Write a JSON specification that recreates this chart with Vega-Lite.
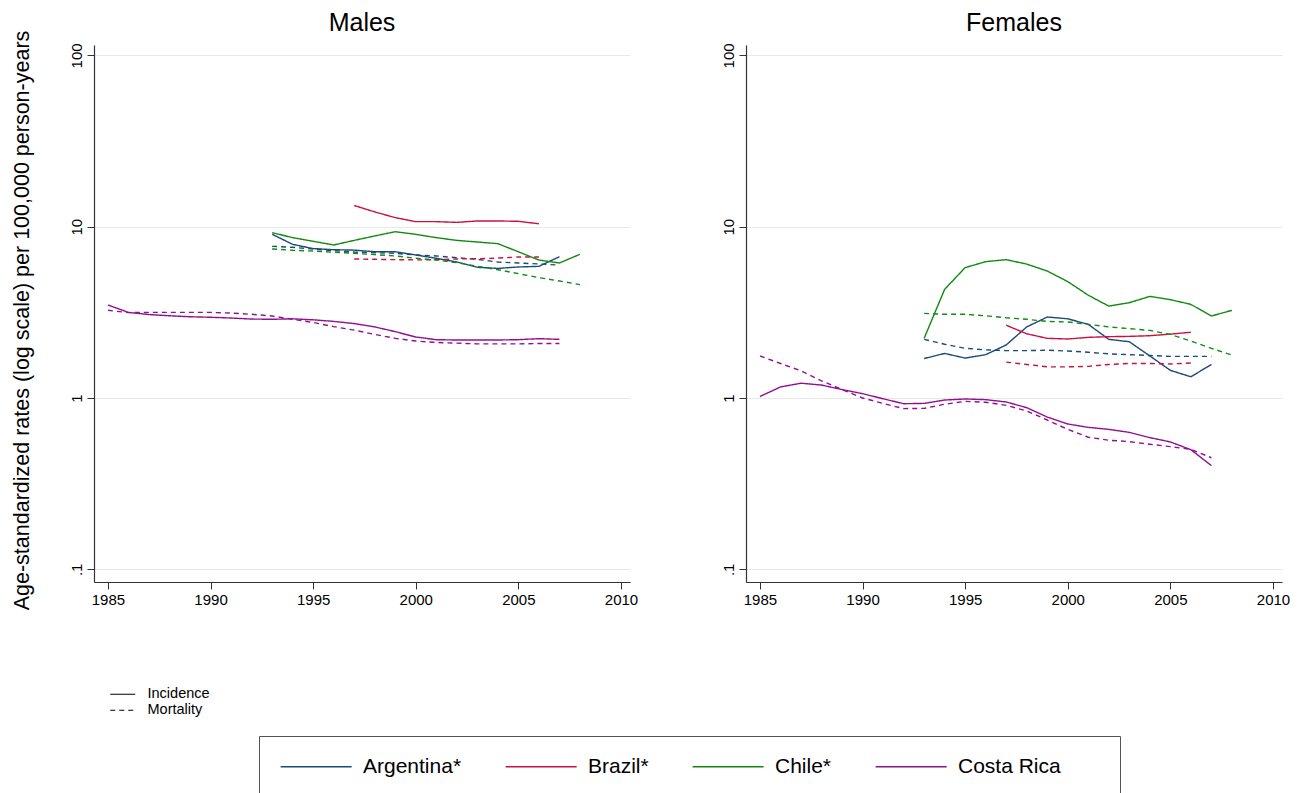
{
  "$schema": "https://vega.github.io/schema/vega-lite/v6.json",
  "background": "white",
  "padding": {"left": 10, "top": 10, "right": 5, "bottom": 0},
  "bounds": "flush",
  "spacing": 116,
  "config": {
    "font": "Liberation Sans",
    "view": {"stroke": null},
    "title": {"fontSize": 25, "fontWeight": "normal", "color": "black", "offset": 7, "anchor": "middle", "frame": "group"},
    "axis": {"labelColor": "black", "titleColor": "black", "domainColor": "#333333", "tickColor": "#333333", "labelFont": "Liberation Sans", "titleFont": "Liberation Sans"}
  },
  "datasets": {
    "rates": [
      {"sex":"Males","country":"Argentina*","measure":"Incidence","year":1993,"rate":9.03},
      {"sex":"Males","country":"Argentina*","measure":"Incidence","year":1994,"rate":7.89},
      {"sex":"Males","country":"Argentina*","measure":"Incidence","year":1995,"rate":7.45},
      {"sex":"Males","country":"Argentina*","measure":"Incidence","year":1996,"rate":7.34},
      {"sex":"Males","country":"Argentina*","measure":"Incidence","year":1997,"rate":7.3},
      {"sex":"Males","country":"Argentina*","measure":"Incidence","year":1998,"rate":7.14},
      {"sex":"Males","country":"Argentina*","measure":"Incidence","year":1999,"rate":7.14},
      {"sex":"Males","country":"Argentina*","measure":"Incidence","year":2000,"rate":6.84},
      {"sex":"Males","country":"Argentina*","measure":"Incidence","year":2001,"rate":6.54},
      {"sex":"Males","country":"Argentina*","measure":"Incidence","year":2002,"rate":6.22},
      {"sex":"Males","country":"Argentina*","measure":"Incidence","year":2003,"rate":5.79},
      {"sex":"Males","country":"Argentina*","measure":"Incidence","year":2004,"rate":5.71},
      {"sex":"Males","country":"Argentina*","measure":"Incidence","year":2005,"rate":5.82},
      {"sex":"Males","country":"Argentina*","measure":"Incidence","year":2006,"rate":5.87},
      {"sex":"Males","country":"Argentina*","measure":"Incidence","year":2007,"rate":6.68},
      {"sex":"Males","country":"Argentina*","measure":"Mortality","year":1993,"rate":7.68},
      {"sex":"Males","country":"Argentina*","measure":"Mortality","year":1994,"rate":7.58},
      {"sex":"Males","country":"Argentina*","measure":"Mortality","year":1995,"rate":7.41},
      {"sex":"Males","country":"Argentina*","measure":"Mortality","year":1996,"rate":7.24},
      {"sex":"Males","country":"Argentina*","measure":"Mortality","year":1997,"rate":7.11},
      {"sex":"Males","country":"Argentina*","measure":"Mortality","year":1998,"rate":7.05},
      {"sex":"Males","country":"Argentina*","measure":"Mortality","year":1999,"rate":6.99},
      {"sex":"Males","country":"Argentina*","measure":"Mortality","year":2000,"rate":6.84},
      {"sex":"Males","country":"Argentina*","measure":"Mortality","year":2001,"rate":6.75},
      {"sex":"Males","country":"Argentina*","measure":"Mortality","year":2002,"rate":6.59},
      {"sex":"Males","country":"Argentina*","measure":"Mortality","year":2003,"rate":6.45},
      {"sex":"Males","country":"Argentina*","measure":"Mortality","year":2004,"rate":6.22},
      {"sex":"Males","country":"Argentina*","measure":"Mortality","year":2005,"rate":6.14},
      {"sex":"Males","country":"Argentina*","measure":"Mortality","year":2006,"rate":6.06},
      {"sex":"Males","country":"Argentina*","measure":"Mortality","year":2007,"rate":5.97},
      {"sex":"Males","country":"Brazil*","measure":"Incidence","year":1997,"rate":13.3},
      {"sex":"Males","country":"Brazil*","measure":"Incidence","year":1998,"rate":12.2},
      {"sex":"Males","country":"Brazil*","measure":"Incidence","year":1999,"rate":11.3},
      {"sex":"Males","country":"Brazil*","measure":"Incidence","year":2000,"rate":10.7},
      {"sex":"Males","country":"Brazil*","measure":"Incidence","year":2001,"rate":10.7},
      {"sex":"Males","country":"Brazil*","measure":"Incidence","year":2002,"rate":10.6},
      {"sex":"Males","country":"Brazil*","measure":"Incidence","year":2003,"rate":10.8},
      {"sex":"Males","country":"Brazil*","measure":"Incidence","year":2004,"rate":10.8},
      {"sex":"Males","country":"Brazil*","measure":"Incidence","year":2005,"rate":10.75},
      {"sex":"Males","country":"Brazil*","measure":"Incidence","year":2006,"rate":10.4},
      {"sex":"Males","country":"Brazil*","measure":"Mortality","year":1997,"rate":6.48},
      {"sex":"Males","country":"Brazil*","measure":"Mortality","year":1998,"rate":6.45},
      {"sex":"Males","country":"Brazil*","measure":"Mortality","year":1999,"rate":6.42},
      {"sex":"Males","country":"Brazil*","measure":"Mortality","year":2000,"rate":6.4},
      {"sex":"Males","country":"Brazil*","measure":"Mortality","year":2001,"rate":6.42},
      {"sex":"Males","country":"Brazil*","measure":"Mortality","year":2002,"rate":6.48},
      {"sex":"Males","country":"Brazil*","measure":"Mortality","year":2003,"rate":6.5},
      {"sex":"Males","country":"Brazil*","measure":"Mortality","year":2004,"rate":6.56},
      {"sex":"Males","country":"Brazil*","measure":"Mortality","year":2005,"rate":6.65},
      {"sex":"Males","country":"Brazil*","measure":"Mortality","year":2006,"rate":6.65},
      {"sex":"Males","country":"Chile*","measure":"Incidence","year":1993,"rate":9.23},
      {"sex":"Males","country":"Chile*","measure":"Incidence","year":1994,"rate":8.63},
      {"sex":"Males","country":"Chile*","measure":"Incidence","year":1995,"rate":8.22},
      {"sex":"Males","country":"Chile*","measure":"Incidence","year":1996,"rate":7.82},
      {"sex":"Males","country":"Chile*","measure":"Incidence","year":1997,"rate":8.32},
      {"sex":"Males","country":"Chile*","measure":"Incidence","year":1998,"rate":8.83},
      {"sex":"Males","country":"Chile*","measure":"Incidence","year":1999,"rate":9.35},
      {"sex":"Males","country":"Chile*","measure":"Incidence","year":2000,"rate":9.02},
      {"sex":"Males","country":"Chile*","measure":"Incidence","year":2001,"rate":8.63},
      {"sex":"Males","country":"Chile*","measure":"Incidence","year":2002,"rate":8.32},
      {"sex":"Males","country":"Chile*","measure":"Incidence","year":2003,"rate":8.14},
      {"sex":"Males","country":"Chile*","measure":"Incidence","year":2004,"rate":7.96},
      {"sex":"Males","country":"Chile*","measure":"Incidence","year":2005,"rate":7.14},
      {"sex":"Males","country":"Chile*","measure":"Incidence","year":2006,"rate":6.39},
      {"sex":"Males","country":"Chile*","measure":"Incidence","year":2007,"rate":6.14},
      {"sex":"Males","country":"Chile*","measure":"Incidence","year":2008,"rate":6.9},
      {"sex":"Males","country":"Chile*","measure":"Mortality","year":1993,"rate":7.41},
      {"sex":"Males","country":"Chile*","measure":"Mortality","year":1994,"rate":7.28},
      {"sex":"Males","country":"Chile*","measure":"Mortality","year":1995,"rate":7.21},
      {"sex":"Males","country":"Chile*","measure":"Mortality","year":1996,"rate":7.09},
      {"sex":"Males","country":"Chile*","measure":"Mortality","year":1997,"rate":6.99},
      {"sex":"Males","country":"Chile*","measure":"Mortality","year":1998,"rate":6.87},
      {"sex":"Males","country":"Chile*","measure":"Mortality","year":1999,"rate":6.75},
      {"sex":"Males","country":"Chile*","measure":"Mortality","year":2000,"rate":6.54},
      {"sex":"Males","country":"Chile*","measure":"Mortality","year":2001,"rate":6.39},
      {"sex":"Males","country":"Chile*","measure":"Mortality","year":2002,"rate":6.17},
      {"sex":"Males","country":"Chile*","measure":"Mortality","year":2003,"rate":5.87},
      {"sex":"Males","country":"Chile*","measure":"Mortality","year":2004,"rate":5.61},
      {"sex":"Males","country":"Chile*","measure":"Mortality","year":2005,"rate":5.32},
      {"sex":"Males","country":"Chile*","measure":"Mortality","year":2006,"rate":5.04},
      {"sex":"Males","country":"Chile*","measure":"Mortality","year":2007,"rate":4.82},
      {"sex":"Males","country":"Chile*","measure":"Mortality","year":2008,"rate":4.59},
      {"sex":"Males","country":"Costa Rica","measure":"Incidence","year":1985,"rate":3.49},
      {"sex":"Males","country":"Costa Rica","measure":"Incidence","year":1986,"rate":3.16},
      {"sex":"Males","country":"Costa Rica","measure":"Incidence","year":1987,"rate":3.07},
      {"sex":"Males","country":"Costa Rica","measure":"Incidence","year":1988,"rate":3.02},
      {"sex":"Males","country":"Costa Rica","measure":"Incidence","year":1989,"rate":2.98},
      {"sex":"Males","country":"Costa Rica","measure":"Incidence","year":1990,"rate":2.96},
      {"sex":"Males","country":"Costa Rica","measure":"Incidence","year":1991,"rate":2.93},
      {"sex":"Males","country":"Costa Rica","measure":"Incidence","year":1992,"rate":2.89},
      {"sex":"Males","country":"Costa Rica","measure":"Incidence","year":1993,"rate":2.88},
      {"sex":"Males","country":"Costa Rica","measure":"Incidence","year":1994,"rate":2.9},
      {"sex":"Males","country":"Costa Rica","measure":"Incidence","year":1995,"rate":2.86},
      {"sex":"Males","country":"Costa Rica","measure":"Incidence","year":1996,"rate":2.8},
      {"sex":"Males","country":"Costa Rica","measure":"Incidence","year":1997,"rate":2.72},
      {"sex":"Males","country":"Costa Rica","measure":"Incidence","year":1998,"rate":2.6},
      {"sex":"Males","country":"Costa Rica","measure":"Incidence","year":1999,"rate":2.44},
      {"sex":"Males","country":"Costa Rica","measure":"Incidence","year":2000,"rate":2.27},
      {"sex":"Males","country":"Costa Rica","measure":"Incidence","year":2001,"rate":2.19},
      {"sex":"Males","country":"Costa Rica","measure":"Incidence","year":2002,"rate":2.18},
      {"sex":"Males","country":"Costa Rica","measure":"Incidence","year":2003,"rate":2.18},
      {"sex":"Males","country":"Costa Rica","measure":"Incidence","year":2004,"rate":2.18},
      {"sex":"Males","country":"Costa Rica","measure":"Incidence","year":2005,"rate":2.19},
      {"sex":"Males","country":"Costa Rica","measure":"Incidence","year":2006,"rate":2.22},
      {"sex":"Males","country":"Costa Rica","measure":"Incidence","year":2007,"rate":2.2},
      {"sex":"Males","country":"Costa Rica","measure":"Mortality","year":1985,"rate":3.25},
      {"sex":"Males","country":"Costa Rica","measure":"Mortality","year":1986,"rate":3.15},
      {"sex":"Males","country":"Costa Rica","measure":"Mortality","year":1987,"rate":3.16},
      {"sex":"Males","country":"Costa Rica","measure":"Mortality","year":1988,"rate":3.16},
      {"sex":"Males","country":"Costa Rica","measure":"Mortality","year":1989,"rate":3.16},
      {"sex":"Males","country":"Costa Rica","measure":"Mortality","year":1990,"rate":3.16},
      {"sex":"Males","country":"Costa Rica","measure":"Mortality","year":1991,"rate":3.13},
      {"sex":"Males","country":"Costa Rica","measure":"Mortality","year":1992,"rate":3.08},
      {"sex":"Males","country":"Costa Rica","measure":"Mortality","year":1993,"rate":3.01},
      {"sex":"Males","country":"Costa Rica","measure":"Mortality","year":1994,"rate":2.88},
      {"sex":"Males","country":"Costa Rica","measure":"Mortality","year":1995,"rate":2.76},
      {"sex":"Males","country":"Costa Rica","measure":"Mortality","year":1996,"rate":2.61},
      {"sex":"Males","country":"Costa Rica","measure":"Mortality","year":1997,"rate":2.49},
      {"sex":"Males","country":"Costa Rica","measure":"Mortality","year":1998,"rate":2.35},
      {"sex":"Males","country":"Costa Rica","measure":"Mortality","year":1999,"rate":2.23},
      {"sex":"Males","country":"Costa Rica","measure":"Mortality","year":2000,"rate":2.15},
      {"sex":"Males","country":"Costa Rica","measure":"Mortality","year":2001,"rate":2.11},
      {"sex":"Males","country":"Costa Rica","measure":"Mortality","year":2002,"rate":2.09},
      {"sex":"Males","country":"Costa Rica","measure":"Mortality","year":2003,"rate":2.07},
      {"sex":"Males","country":"Costa Rica","measure":"Mortality","year":2004,"rate":2.07},
      {"sex":"Males","country":"Costa Rica","measure":"Mortality","year":2005,"rate":2.07},
      {"sex":"Males","country":"Costa Rica","measure":"Mortality","year":2006,"rate":2.08},
      {"sex":"Males","country":"Costa Rica","measure":"Mortality","year":2007,"rate":2.08},
      {"sex":"Females","country":"Argentina*","measure":"Incidence","year":1993,"rate":1.7},
      {"sex":"Females","country":"Argentina*","measure":"Incidence","year":1994,"rate":1.82},
      {"sex":"Females","country":"Argentina*","measure":"Incidence","year":1995,"rate":1.71},
      {"sex":"Females","country":"Argentina*","measure":"Incidence","year":1996,"rate":1.79},
      {"sex":"Females","country":"Argentina*","measure":"Incidence","year":1997,"rate":2.04},
      {"sex":"Females","country":"Argentina*","measure":"Incidence","year":1998,"rate":2.6},
      {"sex":"Females","country":"Argentina*","measure":"Incidence","year":1999,"rate":2.97},
      {"sex":"Females","country":"Argentina*","measure":"Incidence","year":2000,"rate":2.9},
      {"sex":"Females","country":"Argentina*","measure":"Incidence","year":2001,"rate":2.69},
      {"sex":"Females","country":"Argentina*","measure":"Incidence","year":2002,"rate":2.2},
      {"sex":"Females","country":"Argentina*","measure":"Incidence","year":2003,"rate":2.13},
      {"sex":"Females","country":"Argentina*","measure":"Incidence","year":2004,"rate":1.76},
      {"sex":"Females","country":"Argentina*","measure":"Incidence","year":2005,"rate":1.45},
      {"sex":"Females","country":"Argentina*","measure":"Incidence","year":2006,"rate":1.33},
      {"sex":"Females","country":"Argentina*","measure":"Incidence","year":2007,"rate":1.57},
      {"sex":"Females","country":"Argentina*","measure":"Mortality","year":1993,"rate":2.2},
      {"sex":"Females","country":"Argentina*","measure":"Mortality","year":1994,"rate":2.06},
      {"sex":"Females","country":"Argentina*","measure":"Mortality","year":1995,"rate":1.95},
      {"sex":"Females","country":"Argentina*","measure":"Mortality","year":1996,"rate":1.91},
      {"sex":"Females","country":"Argentina*","measure":"Mortality","year":1997,"rate":1.89},
      {"sex":"Females","country":"Argentina*","measure":"Mortality","year":1998,"rate":1.89},
      {"sex":"Females","country":"Argentina*","measure":"Mortality","year":1999,"rate":1.9},
      {"sex":"Females","country":"Argentina*","measure":"Mortality","year":2000,"rate":1.88},
      {"sex":"Females","country":"Argentina*","measure":"Mortality","year":2001,"rate":1.85},
      {"sex":"Females","country":"Argentina*","measure":"Mortality","year":2002,"rate":1.81},
      {"sex":"Females","country":"Argentina*","measure":"Mortality","year":2003,"rate":1.79},
      {"sex":"Females","country":"Argentina*","measure":"Mortality","year":2004,"rate":1.77},
      {"sex":"Females","country":"Argentina*","measure":"Mortality","year":2005,"rate":1.75},
      {"sex":"Females","country":"Argentina*","measure":"Mortality","year":2006,"rate":1.75},
      {"sex":"Females","country":"Argentina*","measure":"Mortality","year":2007,"rate":1.75},
      {"sex":"Females","country":"Brazil*","measure":"Incidence","year":1997,"rate":2.66},
      {"sex":"Females","country":"Brazil*","measure":"Incidence","year":1998,"rate":2.37},
      {"sex":"Females","country":"Brazil*","measure":"Incidence","year":1999,"rate":2.23},
      {"sex":"Females","country":"Brazil*","measure":"Incidence","year":2000,"rate":2.21},
      {"sex":"Females","country":"Brazil*","measure":"Incidence","year":2001,"rate":2.26},
      {"sex":"Females","country":"Brazil*","measure":"Incidence","year":2002,"rate":2.28},
      {"sex":"Females","country":"Brazil*","measure":"Incidence","year":2003,"rate":2.29},
      {"sex":"Females","country":"Brazil*","measure":"Incidence","year":2004,"rate":2.31},
      {"sex":"Females","country":"Brazil*","measure":"Incidence","year":2005,"rate":2.36},
      {"sex":"Females","country":"Brazil*","measure":"Incidence","year":2006,"rate":2.42},
      {"sex":"Females","country":"Brazil*","measure":"Mortality","year":1997,"rate":1.62},
      {"sex":"Females","country":"Brazil*","measure":"Mortality","year":1998,"rate":1.57},
      {"sex":"Females","country":"Brazil*","measure":"Mortality","year":1999,"rate":1.52},
      {"sex":"Females","country":"Brazil*","measure":"Mortality","year":2000,"rate":1.52},
      {"sex":"Females","country":"Brazil*","measure":"Mortality","year":2001,"rate":1.53},
      {"sex":"Females","country":"Brazil*","measure":"Mortality","year":2002,"rate":1.57},
      {"sex":"Females","country":"Brazil*","measure":"Mortality","year":2003,"rate":1.59},
      {"sex":"Females","country":"Brazil*","measure":"Mortality","year":2004,"rate":1.59},
      {"sex":"Females","country":"Brazil*","measure":"Mortality","year":2005,"rate":1.58},
      {"sex":"Females","country":"Brazil*","measure":"Mortality","year":2006,"rate":1.6},
      {"sex":"Females","country":"Chile*","measure":"Incidence","year":1993,"rate":2.23},
      {"sex":"Females","country":"Chile*","measure":"Incidence","year":1994,"rate":4.31},
      {"sex":"Females","country":"Chile*","measure":"Incidence","year":1995,"rate":5.77},
      {"sex":"Females","country":"Chile*","measure":"Incidence","year":1996,"rate":6.25},
      {"sex":"Females","country":"Chile*","measure":"Incidence","year":1997,"rate":6.42},
      {"sex":"Females","country":"Chile*","measure":"Incidence","year":1998,"rate":6.05},
      {"sex":"Females","country":"Chile*","measure":"Incidence","year":1999,"rate":5.51},
      {"sex":"Females","country":"Chile*","measure":"Incidence","year":2000,"rate":4.78},
      {"sex":"Females","country":"Chile*","measure":"Incidence","year":2001,"rate":3.98},
      {"sex":"Females","country":"Chile*","measure":"Incidence","year":2002,"rate":3.44},
      {"sex":"Females","country":"Chile*","measure":"Incidence","year":2003,"rate":3.6},
      {"sex":"Females","country":"Chile*","measure":"Incidence","year":2004,"rate":3.92},
      {"sex":"Females","country":"Chile*","measure":"Incidence","year":2005,"rate":3.75},
      {"sex":"Females","country":"Chile*","measure":"Incidence","year":2006,"rate":3.52},
      {"sex":"Females","country":"Chile*","measure":"Incidence","year":2007,"rate":3.01},
      {"sex":"Females","country":"Chile*","measure":"Incidence","year":2008,"rate":3.25},
      {"sex":"Females","country":"Chile*","measure":"Mortality","year":1993,"rate":3.12},
      {"sex":"Females","country":"Chile*","measure":"Mortality","year":1994,"rate":3.08},
      {"sex":"Females","country":"Chile*","measure":"Mortality","year":1995,"rate":3.08},
      {"sex":"Females","country":"Chile*","measure":"Mortality","year":1996,"rate":3.02},
      {"sex":"Females","country":"Chile*","measure":"Mortality","year":1997,"rate":2.94},
      {"sex":"Females","country":"Chile*","measure":"Mortality","year":1998,"rate":2.88},
      {"sex":"Females","country":"Chile*","measure":"Mortality","year":1999,"rate":2.8},
      {"sex":"Females","country":"Chile*","measure":"Mortality","year":2000,"rate":2.78},
      {"sex":"Females","country":"Chile*","measure":"Mortality","year":2001,"rate":2.69},
      {"sex":"Females","country":"Chile*","measure":"Mortality","year":2002,"rate":2.6},
      {"sex":"Females","country":"Chile*","measure":"Mortality","year":2003,"rate":2.54},
      {"sex":"Females","country":"Chile*","measure":"Mortality","year":2004,"rate":2.48},
      {"sex":"Females","country":"Chile*","measure":"Mortality","year":2005,"rate":2.35},
      {"sex":"Females","country":"Chile*","measure":"Mortality","year":2006,"rate":2.15},
      {"sex":"Females","country":"Chile*","measure":"Mortality","year":2007,"rate":1.95},
      {"sex":"Females","country":"Chile*","measure":"Mortality","year":2008,"rate":1.78},
      {"sex":"Females","country":"Costa Rica","measure":"Incidence","year":1985,"rate":1.02},
      {"sex":"Females","country":"Costa Rica","measure":"Incidence","year":1986,"rate":1.16},
      {"sex":"Females","country":"Costa Rica","measure":"Incidence","year":1987,"rate":1.22},
      {"sex":"Females","country":"Costa Rica","measure":"Incidence","year":1988,"rate":1.19},
      {"sex":"Females","country":"Costa Rica","measure":"Incidence","year":1989,"rate":1.12},
      {"sex":"Females","country":"Costa Rica","measure":"Incidence","year":1990,"rate":1.06},
      {"sex":"Females","country":"Costa Rica","measure":"Incidence","year":1991,"rate":0.99},
      {"sex":"Females","country":"Costa Rica","measure":"Incidence","year":1992,"rate":0.926},
      {"sex":"Females","country":"Costa Rica","measure":"Incidence","year":1993,"rate":0.93},
      {"sex":"Females","country":"Costa Rica","measure":"Incidence","year":1994,"rate":0.973},
      {"sex":"Females","country":"Costa Rica","measure":"Incidence","year":1995,"rate":0.987},
      {"sex":"Females","country":"Costa Rica","measure":"Incidence","year":1996,"rate":0.978},
      {"sex":"Females","country":"Costa Rica","measure":"Incidence","year":1997,"rate":0.948},
      {"sex":"Females","country":"Costa Rica","measure":"Incidence","year":1998,"rate":0.878},
      {"sex":"Females","country":"Costa Rica","measure":"Incidence","year":1999,"rate":0.774},
      {"sex":"Females","country":"Costa Rica","measure":"Incidence","year":2000,"rate":0.705},
      {"sex":"Females","country":"Costa Rica","measure":"Incidence","year":2001,"rate":0.674},
      {"sex":"Females","country":"Costa Rica","measure":"Incidence","year":2002,"rate":0.656},
      {"sex":"Females","country":"Costa Rica","measure":"Incidence","year":2003,"rate":0.63},
      {"sex":"Females","country":"Costa Rica","measure":"Incidence","year":2004,"rate":0.587},
      {"sex":"Females","country":"Costa Rica","measure":"Incidence","year":2005,"rate":0.554},
      {"sex":"Females","country":"Costa Rica","measure":"Incidence","year":2006,"rate":0.499},
      {"sex":"Females","country":"Costa Rica","measure":"Incidence","year":2007,"rate":0.403},
      {"sex":"Females","country":"Costa Rica","measure":"Mortality","year":1985,"rate":1.76},
      {"sex":"Females","country":"Costa Rica","measure":"Mortality","year":1986,"rate":1.59},
      {"sex":"Females","country":"Costa Rica","measure":"Mortality","year":1987,"rate":1.44},
      {"sex":"Females","country":"Costa Rica","measure":"Mortality","year":1988,"rate":1.26},
      {"sex":"Females","country":"Costa Rica","measure":"Mortality","year":1989,"rate":1.12},
      {"sex":"Females","country":"Costa Rica","measure":"Mortality","year":1990,"rate":1.0},
      {"sex":"Females","country":"Costa Rica","measure":"Mortality","year":1991,"rate":0.93},
      {"sex":"Females","country":"Costa Rica","measure":"Mortality","year":1992,"rate":0.867},
      {"sex":"Females","country":"Costa Rica","measure":"Mortality","year":1993,"rate":0.87},
      {"sex":"Females","country":"Costa Rica","measure":"Mortality","year":1994,"rate":0.919},
      {"sex":"Females","country":"Costa Rica","measure":"Mortality","year":1995,"rate":0.956},
      {"sex":"Females","country":"Costa Rica","measure":"Mortality","year":1996,"rate":0.944},
      {"sex":"Females","country":"Costa Rica","measure":"Mortality","year":1997,"rate":0.906},
      {"sex":"Females","country":"Costa Rica","measure":"Mortality","year":1998,"rate":0.84},
      {"sex":"Females","country":"Costa Rica","measure":"Mortality","year":1999,"rate":0.744},
      {"sex":"Females","country":"Costa Rica","measure":"Mortality","year":2000,"rate":0.656},
      {"sex":"Females","country":"Costa Rica","measure":"Mortality","year":2001,"rate":0.59},
      {"sex":"Females","country":"Costa Rica","measure":"Mortality","year":2002,"rate":0.567},
      {"sex":"Females","country":"Costa Rica","measure":"Mortality","year":2003,"rate":0.556},
      {"sex":"Females","country":"Costa Rica","measure":"Mortality","year":2004,"rate":0.537},
      {"sex":"Females","country":"Costa Rica","measure":"Mortality","year":2005,"rate":0.52},
      {"sex":"Females","country":"Costa Rica","measure":"Mortality","year":2006,"rate":0.501},
      {"sex":"Females","country":"Costa Rica","measure":"Mortality","year":2007,"rate":0.448}
    ]
  },
  "hconcat": [
    {
      "title": {"text": "Males", "frame": "group", "offset": 7, "dy": 13},
      "width": 536,
      "height": 537,
      "data": {"name": "rates"},
      "transform": [{"filter": "datum.sex === 'Males'"}],
      "mark": {"type": "line", "strokeWidth": 1.4, "clip": true},
      "encoding": {
        "x": {"field": "year", "type": "quantitative",
          "scale": {"domain": [1984.32, 2010.44], "nice": false, "zero": false},
          "axis": {"values": [1985, 1990, 1995, 2000, 2005, 2010], "format": "d", "title": null, "grid": false, "labelFontSize": 15, "tickSize": 7, "labelPadding": 3, "domainWidth": 1.2, "labelFlush": false}},
        "y": {"field": "rate", "type": "quantitative",
          "scale": {"type": "log", "domain": [0.0843, 115], "nice": false},
          "axis": {"values": [0.1, 1, 10, 100], "labelExpr": "datum.value < 1 ? '.1' : format(datum.value, 'd')", "title": "Age-standardized rates (log scale) per 100,000 person-years", "titleFontSize": 21.5, "titleFontWeight": "normal", "titlePadding": 36, "titleY": 275, "labelAngle": 270, "labelAlign": "center", "labelBaseline": "bottom", "labelFontSize": 15, "tickSize": 7, "labelPadding": 3, "grid": true, "gridColor": "#e8e8e8", "gridWidth": 1, "domainWidth": 1.2}},
        "color": {"field": "country", "type": "nominal",
          "scale": {"domain": ["Argentina*", "Brazil*", "Chile*", "Costa Rica"], "range": ["#1a4a7a", "#cc1040", "#108a10", "#901090"]},
          "legend": {"title": " ", "titleOrient": "right", "titlePadding": 39, "orient": "none", "legendX": 165, "legendY": 691, "direction": "horizontal", "columns": 4, "symbolType": "M-1,0H7", "symbolSize": 315, "symbolStrokeWidth": 1.6, "labelFontSize": 21, "labelOffset": 63, "columnPadding": 40, "padding": 20, "strokeColor": "#555555", "fillColor": "white", "labelColor": "black", "labelFont": "Liberation Sans"}},
        "strokeDash": {"field": "measure", "type": "nominal",
          "scale": {"domain": ["Incidence", "Mortality"], "range": [[1, 0], [5, 4]]},
          "legend": {"title": null, "orient": "none", "legendX": 14, "legendY": 642, "direction": "vertical", "symbolType": "M-1,0H4", "symbolSize": 100, "symbolStrokeWidth": 1.2, "symbolStrokeColor": "black", "labelFontSize": 14.5, "labelOffset": 25, "rowPadding": 1, "padding": 0, "labelColor": "black", "labelFont": "Liberation Sans"}}
      }
    },
    {
      "title": {"text": "Females", "frame": "group", "offset": 7},
      "width": 536,
      "height": 537,
      "data": {"name": "rates"},
      "transform": [{"filter": "datum.sex === 'Females'"}],
      "mark": {"type": "line", "strokeWidth": 1.4, "clip": true},
      "encoding": {
        "x": {"field": "year", "type": "quantitative",
          "scale": {"domain": [1984.32, 2010.44], "nice": false, "zero": false},
          "axis": {"values": [1985, 1990, 1995, 2000, 2005, 2010], "format": "d", "title": null, "grid": false, "labelFontSize": 15, "tickSize": 7, "labelPadding": 3, "domainWidth": 1.2, "labelFlush": false}},
        "y": {"field": "rate", "type": "quantitative",
          "scale": {"type": "log", "domain": [0.0843, 115], "nice": false},
          "axis": {"values": [0.1, 1, 10, 100], "labelExpr": "datum.value < 1 ? '.1' : format(datum.value, 'd')", "title": null, "labelAngle": 270, "labelAlign": "center", "labelBaseline": "bottom", "labelFontSize": 15, "tickSize": 7, "labelPadding": 3, "grid": true, "gridColor": "#e8e8e8", "gridWidth": 1, "domainWidth": 1.2}},
        "color": {"field": "country", "type": "nominal",
          "scale": {"domain": ["Argentina*", "Brazil*", "Chile*", "Costa Rica"], "range": ["#1a4a7a", "#cc1040", "#108a10", "#901090"]}},
        "strokeDash": {"field": "measure", "type": "nominal",
          "scale": {"domain": ["Incidence", "Mortality"], "range": [[1, 0], [5, 4]]}}
      }
    }
  ]
}
